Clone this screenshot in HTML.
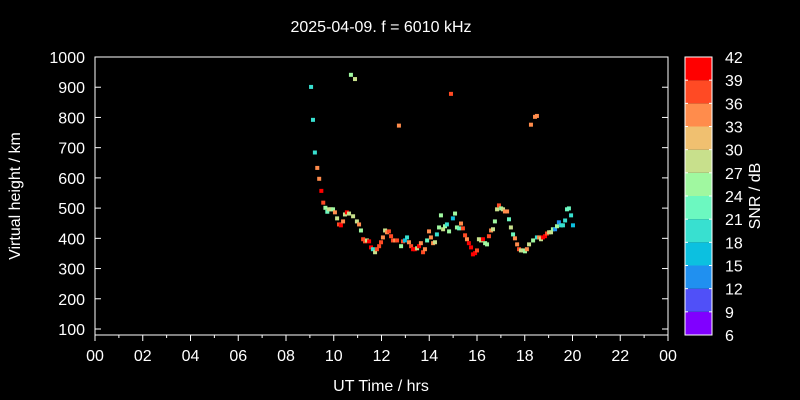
<!DOCTYPE html>
<html><head><meta charset="utf-8"><style>
body{margin:0;background:#000;width:800px;height:400px;overflow:hidden}
svg{display:block;font-family:"Liberation Sans",sans-serif}
</style></head><body>
<svg id="chart" width="800" height="400" viewBox="0 0 800 400">
<rect width="800" height="400" fill="#000"/>
<text x="381" y="32" fill="#fff" font-size="16" text-anchor="middle">2025-04-09. f = 6010 kHz</text>
<text x="381" y="391" fill="#fff" font-size="16" text-anchor="middle">UT Time / hrs</text>
<text transform="translate(20,196) rotate(-90)" fill="#fff" font-size="16" text-anchor="middle">Virtual height / km</text>
<text transform="translate(760,196) rotate(-90)" fill="#fff" font-size="16" text-anchor="middle">SNR / dB</text>
<g id="axes"></g>
<g id="points"></g>
<g id="cbar"></g>
</svg>
<script>
const hours=[9.05,9.13,9.21,9.31,9.39,9.48,9.56,9.65,9.73,9.80,9.88,9.97,10.05,10.14,10.22,10.30,10.39,10.47,10.55,10.64,10.72,10.81,10.89,10.97,11.06,11.14,11.23,11.31,11.39,11.48,11.56,11.64,11.73,11.81,11.90,11.98,12.06,12.15,12.23,12.31,12.40,12.48,12.57,12.65,12.73,12.82,12.90,12.98,13.07,13.15,13.24,13.32,13.40,13.49,13.57,13.65,13.74,13.82,13.91,13.99,14.07,14.16,14.24,14.32,14.41,14.49,14.58,14.66,14.74,14.83,14.91,14.99,15.08,15.16,15.25,15.33,15.41,15.50,15.58,15.66,15.75,15.83,15.92,16.00,16.08,16.17,16.25,16.34,16.42,16.50,16.59,16.67,16.75,16.84,16.92,17.01,17.09,17.17,17.26,17.34,17.42,17.51,17.59,17.68,17.76,17.84,17.93,18.01,18.09,18.18,18.26,18.35,18.43,18.51,18.51,18.60,18.68,18.76,18.85,18.93,19.02,19.10,19.18,19.27,19.35,19.43,19.52,19.60,19.69,19.77,19.85,19.94,20.02];
const heights=[901,792,684,633,597,557,518,501,488,496,496,496,486,466,446,443,456,479,486,482,941,473,927,456,446,426,397,390,393,390,370,364,354,364,374,387,403,426,420,423,407,393,393,393,773,374,390,393,403,387,374,364,364,367,374,384,354,364,393,423,403,384,387,413,436,476,430,440,446,423,878,466,482,436,433,449,433,410,397,384,370,347,351,360,397,393,397,384,380,407,426,430,456,496,509,499,496,489,489,463,436,413,400,380,364,360,360,357,364,380,776,393,802,805,403,403,397,403,407,416,420,420,430,430,440,453,443,443,459,496,499,476,443];
const snr=[18,18,18,33,33,39,36,24,21,27,27,24,33,27,36,39,33,27,42,27,24,27,27,27,33,24,36,36,27,42,42,18,27,36,36,36,33,27,33,36,36,36,33,36,33,24,36,15,18,33,36,39,42,27,39,33,36,33,21,33,33,33,27,18,24,24,27,24,18,24,36,15,24,24,21,33,36,36,33,39,42,42,39,36,27,27,39,24,24,36,33,27,24,27,36,24,27,33,33,21,27,21,33,33,36,27,27,24,33,27,33,24,33,33,18,33,27,39,42,36,27,27,24,12,24,12,18,18,18,21,21,18,15];
const snrLevels=[6,9,12,15,18,21,24,27,30,33,36,39,42];
const binColors=["#8000ff","#5050f8","#2090f0","#0cc0e0","#38e0d0","#6cf8c0","#a0f8a0","#c8e08c","#f0c070","#ff8c4c","#ff4a24","#ff0000"];
const xTicks=["00","02","04","06","08","10","12","14","16","18","20","22","00"];
const yTicks=[100,200,300,400,500,600,700,800,900,1000];
const NS="http://www.w3.org/2000/svg";
const L=95,R=668,T=57,B=335;
const xs=h=>L+h/24*(R-L);
const ys=v=>329-(v-100)*(272/900);
function mk(tag,attrs,parent){const e=document.createElementNS(NS,tag);for(const k in attrs)e.setAttribute(k,attrs[k]);parent.appendChild(e);return e;}
const ax=document.getElementById('axes');
const fr=mk('rect',{x:L,y:T,width:R-L,height:B-T,fill:'none',stroke:'#fff','stroke-width':1},ax);


for(let h=0;h<=24;h++){
  const x=xs(h);
  mk('line',{x1:x,y1:B,x2:x,y2:B+(h%2?3:6),stroke:'#fff'},ax);
  if(h%2===0){
    const t=mk('text',{x:x,y:B+26,fill:'#fff','font-size':16,'text-anchor':'middle'},ax);
    
    
    t.textContent=xTicks[h/2];
  }
}
yTicks.forEach(v=>{
  const y=ys(v);
  mk('line',{x1:L,y1:y,x2:L+6,y2:y,stroke:'#fff'},ax);
  mk('line',{x1:R,y1:y,x2:R-6,y2:y,stroke:'#fff'},ax);
  const t=mk('text',{x:L-10,y:y+6,fill:'#fff','font-size':16,'text-anchor':'end'},ax);
  
  
  t.textContent=v;
});
function colorFor(s){let i=Math.floor((s-6)/3);if(i<0)i=0;if(i>11)i=11;return binColors[i];}
const pg=document.getElementById('points');
hours.forEach((h,i)=>{
  const r=mk('rect',{x:xs(h)-2,y:ys(heights[i])-2,width:4,height:4,fill:colorFor(snr[i])},pg);
  
  
});
const cb=document.getElementById('cbar');
const CL=685,CR=712,CT=57,CB=335;
const cy=s=>CB-(s-6)/36*(CB-CT);
for(let i=0;i<12;i++){
  const r=mk('rect',{x:CL,y:cy(snrLevels[i+1]),width:CR-CL,height:cy(snrLevels[i])-cy(snrLevels[i+1]),fill:binColors[i]},cb);
  
  
}
mk('rect',{x:CL,y:CT,width:CR-CL,height:CB-CT,fill:'none',stroke:'#fff'},cb);
snrLevels.forEach(s=>{
  const y=cy(s);
  mk('line',{x1:CL,y1:y,x2:CL+3,y2:y,stroke:'#fff'},cb);
  mk('line',{x1:CR,y1:y,x2:CR-3,y2:y,stroke:'#fff'},cb);
  const t=mk('text',{x:725,y:y+6,fill:'#fff','font-size':16},cb);
  
  
  t.textContent=s;
});
</script>
</body></html>
